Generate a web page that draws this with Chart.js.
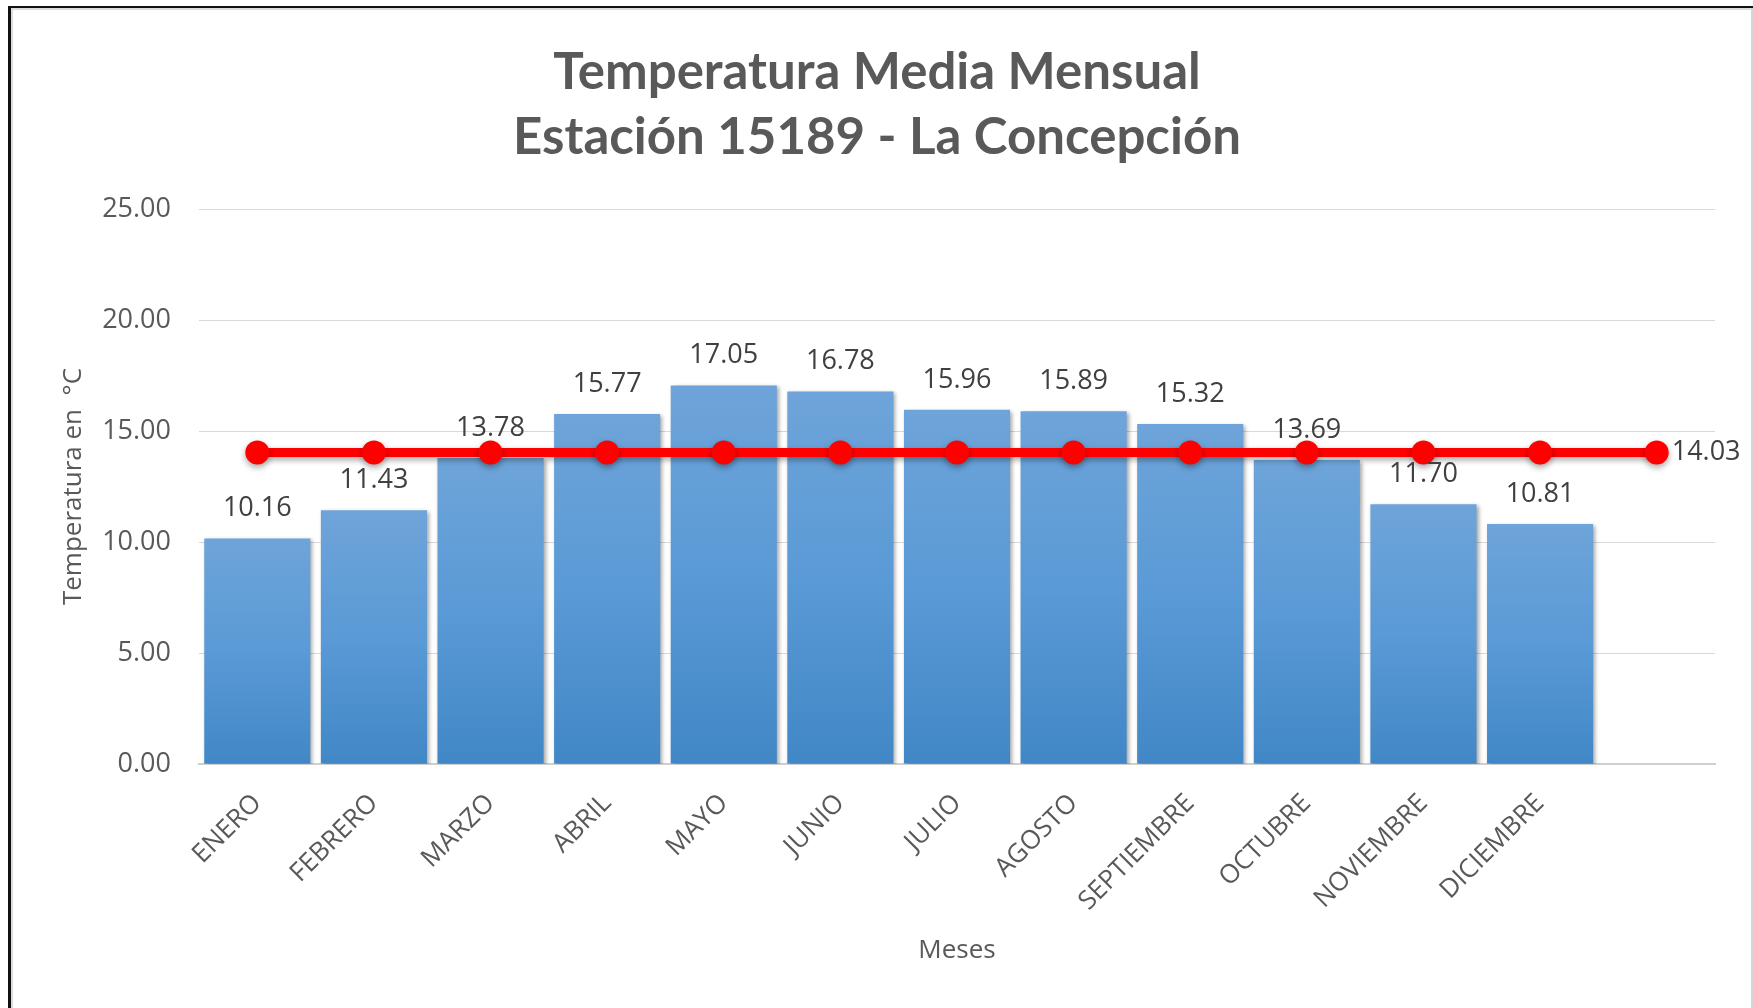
<!DOCTYPE html>
<html lang="es">
<head>
<meta charset="utf-8">
<title>Temperatura Media Mensual</title>
<script src="https://cdn.jsdelivr.net/npm/chart.js@4.4.1/dist/chart.umd.min.js"></script>
<style>
  html, body { margin: 0; padding: 0; background: #fff; overflow: hidden; }
  #wrap { position: relative; width: 1753px; height: 1008px; }
  #chart { position: absolute; left: 0; top: 0; }
  .edge { position: absolute; }
</style>
</head>
<body>
<div id="wrap">
  <canvas id="chart" width="1753" height="1008"></canvas>
  <!-- marco de la hoja -->
  <div class="edge" style="left:8px;top:6px;width:1745px;height:2px;background:#111"></div>
  <div class="edge" style="left:8px;top:6px;width:3px;height:1002px;background:#111"></div>
  <div class="edge" style="left:11px;top:8px;width:1742px;height:2px;background:#dcdcdc"></div>
  <div class="edge" style="left:11px;top:8px;width:2px;height:1000px;background:#dcdcdc"></div>
  <div class="edge" style="left:1751px;top:8px;width:2px;height:1000px;background:#d6d6d6"></div>
</div>
<script>
// Datos
const meses = ['ENERO', 'FEBRERO', 'MARZO', 'ABRIL', 'MAYO', 'JUNIO', 'JULIO',
  'AGOSTO', 'SEPTIEMBRE', 'OCTUBRE', 'NOVIEMBRE', 'DICIEMBRE', ''];
const temperaturas = [10.16, 11.43, 13.78, 15.77, 17.05, 16.78, 15.96, 15.89, 15.32, 13.69, 11.70, 10.81, null];
const promedio = [14.03, 14.03, 14.03, 14.03, 14.03, 14.03, 14.03, 14.03, 14.03, 14.03, 14.03, 14.03, 14.03];
const yTicks = ['0.00', '5.00', '10.00', '15.00', '20.00', '25.00'];

const gris = '#595959';
Chart.defaults.font.family = "'Open Sans', sans-serif";

// degradado vertical de cada barra
function rellenoBarra(ctx) {
  const chart = ctx.chart;
  const y = chart.scales.y;
  if (!chart.chartArea || !y || ctx.raw == null) return '#5b9bd5';
  const top = y.getPixelForValue(ctx.raw);
  const bottom = y.getPixelForValue(0);
  const g = chart.ctx.createLinearGradient(0, top, 0, bottom);
  g.addColorStop(0, '#6ea4d9');
  g.addColorStop(0.5, '#5a9ad6');
  g.addColorStop(1, '#4187c6');
  return g;
}

// sombra suave bajo barras y línea
const sombra = {
  id: 'sombra',
  beforeDatasetDraw(chart, args) {
    const c = chart.ctx;
    c.save();
    c.shadowColor = 'rgba(0,0,0,0.35)';
    if (args.meta.type === 'line') {
      c.shadowBlur = 6;
      c.shadowOffsetY = 3;
    } else {
      c.shadowBlur = 4;
      c.shadowOffsetX = 2;
      c.shadowOffsetY = 2;
    }
  },
  afterDatasetDraw(chart) {
    chart.ctx.restore();
  }
};

// etiquetas de valores
const etiquetas = {
  id: 'etiquetas',
  afterDatasetsDraw(chart) {
    const c = chart.ctx;
    c.save();
    c.font = "27px 'Open Sans', sans-serif";
    c.fillStyle = '#404040';
    c.textAlign = 'center';
    c.textBaseline = 'alphabetic';
    chart.getDatasetMeta(0).data.forEach((bar, i) => {
      const v = temperaturas[i];
      if (v == null) return;
      c.fillText(v.toFixed(2), bar.x, bar.y - 22);
    });
    const linea = chart.getDatasetMeta(1).data;
    const n = linea.length - 1;
    c.textAlign = 'left';
    c.textBaseline = 'middle';
    c.fillText(promedio[n].toFixed(2), linea[n].x + 15, linea[n].y);
    c.restore();
  }
};

new Chart(document.getElementById('chart'), {
  data: {
    labels: meses,
    datasets: [{
      type: 'bar',
      data: temperaturas,
      backgroundColor: rellenoBarra,
      borderWidth: 0,
      barPercentage: 0.91,
      categoryPercentage: 1,
      order: 1
    }, {
      type: 'line',
      data: promedio,
      borderColor: '#ff0000',
      borderWidth: 9,
      pointRadius: 12,
      pointBackgroundColor: '#ff0000',
      pointBorderWidth: 0,
      tension: 0,
      order: 0
    }]
  },
  options: {
    responsive: false,
    animation: false,
    events: [],
    layout: { padding: { left: 39, right: 38, top: 0, bottom: 0 } },
    plugins: {
      legend: { display: false },
      tooltip: { enabled: false },
      title: {
        display: true,
        text: ['Temperatura Media Mensual', 'Estación 15189 - La Concepción'],
        color: gris,
        font: { family: "Lato, 'Open Sans', sans-serif", weight: 'bold', size: 51, lineHeight: '65px' },
        padding: { top: 40, bottom: 39 }
      }
    },
    scales: {
      x: {
        grid: { display: false },
        border: { color: '#d0d0d0', width: 2 },
        ticks: {
          color: gris,
          font: { size: 26 },
          minRotation: 45,
          maxRotation: 45,
          autoSkip: false,
          padding: 16
        },
        title: {
          display: true,
          text: 'Meses',
          color: gris,
          font: { size: 26 },
          padding: { top: 0, bottom: 42 }
        },
        afterFit(scale) { scale.height = 244; }
      },
      y: {
        min: 0,
        max: 25,
        border: { display: false },
        grid: { color: '#d9d9d9', lineWidth: 1, drawTicks: false },
        ticks: {
          stepSize: 5,
          color: gris,
          font: { size: 27 },
          padding: 28,
          callback: (v, i) => yTicks[i]
        },
        title: {
          display: true,
          text: 'Temperatura en  °C',
          color: gris,
          font: { size: 26 },
          padding: { top: 19, bottom: 0 }
        },
        afterFit(scale) { scale.width = 160; }
      }
    }
  },
  plugins: [sombra, etiquetas]
});
</script>
</body>
</html>
